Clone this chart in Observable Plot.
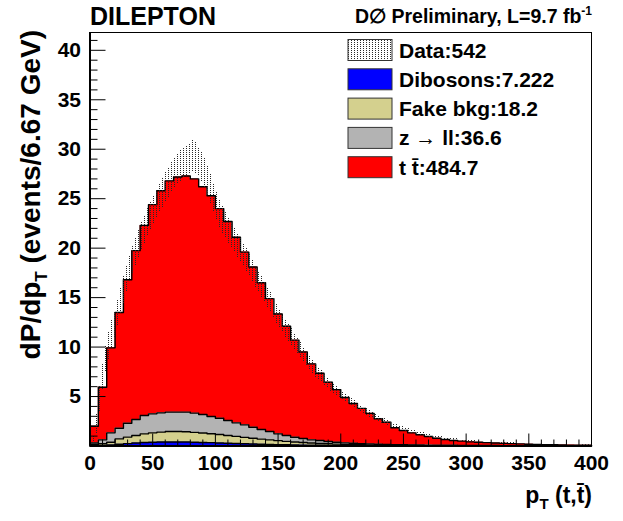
<!DOCTYPE html>
<html><head><meta charset="utf-8">
<script src="https://cdn.jsdelivr.net/npm/d3@7"></script>
<script src="https://cdn.jsdelivr.net/npm/@observablehq/plot@0.6"></script>
<style>body{margin:0;background:#fff;}</style>
</head><body><div id="chart"></div>
<script>
// ---- data (60 bins of 6.67 GeV from 0 to 400) ----
const binWidth = 400 / 60;
const dibosons = [0.02,0.05,0.1,0.17,0.24,0.3,0.35,0.38,0.4,0.41,0.41,0.4,0.38,0.36,0.34,0.31,0.28,0.25,0.22,0.2,0.18,0.16,0.14,0.12,0.1,0.09,0.08,0.07,0.06,0.05,0.04,0.04,0.03,0.03,0.03,0.02,0.02,0.02,0.02,0.01,0.01,0.01,0.01,0.01,0.01,0.01,0.01,0.01,0.01,0.01,0.01,0.01,0.005,0.005,0.005,0.005,0.005,0.005,0.005,0.005];
const fakeBkg = [0.1,0.17,0.28,0.55,0.66,0.76,0.88,0.95,1.0,1.05,1.05,1.04,1.0,0.96,0.9,0.85,0.78,0.72,0.65,0.58,0.52,0.46,0.4,0.35,0.3,0.26,0.22,0.19,0.16,0.14,0.12,0.1,0.09,0.08,0.07,0.06,0.05,0.04,0.04,0.03,0.03,0.03,0.025,0.025,0.02,0.02,0.015,0.015,0.015,0.01,0.01,0.01,0.01,0.01,0.01,0.01,0.005,0.005,0.005,0.005];
const zll = [0.18,0.4,0.95,1.08,1.4,1.62,1.85,1.92,1.95,1.96,1.96,1.98,1.94,1.86,1.74,1.65,1.52,1.37,1.27,1.12,0.97,0.84,0.69,0.59,0.49,0.41,0.32,0.29,0.23,0.19,0.16,0.14,0.12,0.1,0.08,0.08,0.07,0.06,0.05,0.06,0.05,0.04,0.035,0.035,0.03,0.03,0.025,0.025,0.025,0.02,0.02,0.02,0.015,0.015,0.015,0.015,0.01,0.01,0.01,0.01];
const ttbar = [1.7,5.32,8.59,11.7,14.5,17.07,19.22,21.15,22.45,23.38,23.78,23.88,23.68,23.02,22.32,21.19,20.12,18.76,17.46,16.2,14.83,13.44,12.12,11.04,9.81,8.74,7.68,6.8,6.0,5.32,4.58,4.02,3.56,3.09,2.57,2.24,1.71,1.45,1.22,1.03,0.87,0.71,0.59,0.49,0.43,0.36,0.33,0.29,0.25,0.23,0.2,0.17,0.15,0.13,0.11,0.09,0.08,0.07,0.06,0.05];

// data: smoothed band (low / high)
const dataPt   = [2,5,8,12,16,20,26,31,39,50,60,67,73,80,83,87,94,100,107,113,120,127,133,140,147,153,160,167,173,180,187,193,200,213,227,240,253,267,280,300,320,340,360,380,400];
const dataHigh = [0,2.5,6.0,9.7,12.0,13.6,16.6,18.9,21.8,25.1,27.5,29.0,29.9,30.6,30.9,30.2,28.4,26.0,24.0,22.6,21.1,19.6,18.1,16.5,14.9,13.4,12.1,10.7,9.5,8.3,7.35,6.45,5.7,4.4,3.3,2.45,1.8,1.3,0.95,0.6,0.4,0.3,0.22,0.17,0.13];
const dataLow  = [0,0.8,3.5,7.0,9.2,11.0,13.9,16.2,19.0,22.2,24.5,25.9,26.8,27.5,27.7,27.2,25.4,23.2,21.3,20.1,18.7,17.3,15.9,14.4,12.9,11.6,10.4,9.1,8.1,7.0,6.2,5.4,4.75,3.6,2.65,1.95,1.4,1.0,0.72,0.45,0.3,0.22,0.16,0.12,0.09];

const seriesNames = ["Dibosons", "Fake bkg", "z → ll", "t t̄"];
const seriesColors = ["#0000ff", "#d4d08e", "#b3b3b3", "#ff0000"];
const legendLabels = ["Data:542", "Dibosons:7.222", "Fake bkg:18.2", "z \u2192 ll:36.6", "t t\u0304:484.7"];
const legendFills = ["url(#dots)", "#0000ff", "#d4d08e", "#b3b3b3", "#ff0000"];
const yMajor = [5, 10, 15, 20, 25, 30, 35, 40];
const xMajor = [0, 50, 100, 150, 200, 250, 300, 350, 400];
const yMinor = d3.range(1, 42, 1).filter(v => v % 5 !== 0);
const xMinor = d3.range(10, 400, 10).filter(v => v % 50 !== 0);

// ---- tables ----
const layers = [dibosons, fakeBkg, zll, ttbar];
const stepRows = layers.flatMap((vals, s) =>
  [...vals, vals[vals.length - 1]].map((v, i) => ({series: seriesNames[s], x: i * binWidth, value: v})));
const dataRows = dataPt.map((pt, i) => ({pt, low: dataLow[i], high: dataHigh[i]}));

const W = 623, H = 521, mL = 89.5, mR = 32, mT = 32, mB = 75.5;
const plotW = W - mL - mR, plotH = H - mT - mB;
const FONT = "'Liberation Sans', Arial, Helvetica, sans-serif";
const BAND = "#565656";

const plot = Plot.plot({
  width: W, height: H,
  marginLeft: mL, marginRight: mR, marginTop: mT, marginBottom: mB,
  style: {fontFamily: FONT, background: "white", color: "black", overflow: "visible"},
  x: {domain: [0, 400]},
  y: {domain: [0, 41.8]},
  color: {domain: seriesNames, range: seriesColors},
  marks: [
    Plot.areaY(stepRows, Plot.stackY({x: "x", y: "value", z: "series", fill: "series", order: seriesNames, curve: "step-after"})),
    Plot.lineY(stepRows, Plot.stackY2({x: "x", y: "value", z: "series", order: seriesNames, curve: "step-after", stroke: "black", strokeWidth: 1.4})),
    Plot.areaY(dataRows, {x: "pt", y1: "low", y2: "high", curve: "catmull-rom", fill: BAND}),
    Plot.ruleY(yMinor, {y: d => d, insetRight: plotW - 8, stroke: "black", strokeWidth: 1}),
    Plot.ruleY(yMajor, {y: d => d, insetRight: plotW - 16, stroke: "black", strokeWidth: 1}),
    Plot.ruleX(xMinor, {x: d => d, insetTop: plotH - 6, stroke: "black", strokeWidth: 1}),
    Plot.ruleX(xMajor, {x: d => d, insetTop: plotH - 12, stroke: "black", strokeWidth: 1}),
    Plot.axisY({ticks: yMajor, tickSize: 0, tickPadding: 9, fontSize: 21, fontWeight: "bold", label: null}),
    Plot.axisX({ticks: xMajor, tickSize: 0, tickPadding: 9, fontSize: 21, fontWeight: "bold", label: null}),
    Plot.frame({stroke: "black", strokeWidth: 1}),
    Plot.ruleX([0], {stroke: "black", strokeWidth: 2}),
    Plot.ruleY([0], {stroke: "black", strokeWidth: 2})
  ]
});

const svg = d3.select(plot);
const defs = svg.insert("defs", ":first-child");
const pat = defs.append("pattern").attr("id", "dots").attr("patternUnits", "userSpaceOnUse")
  .attr("width", 3).attr("height", 2);
pat.append("rect").attr("x", 0).attr("y", 0).attr("width", 1).attr("height", 1).attr("fill", "#2a2a2a");
const band = svg.selectAll(`g[fill="${BAND}"]`);
band.attr("fill", "url(#dots)");
band.selectAll("path").attr("fill", "url(#dots)").attr("shape-rendering", "crispEdges");

// titles
const T = (x, y, size, anchor) => svg.append("text").attr("x", x).attr("y", y).attr("font-size", size)
  .attr("font-weight", "bold").attr("font-family", FONT).attr("text-anchor", anchor).attr("fill", "black");
T(90, 25, 25, "start").text("DILEPTON");
const pre = T(592, 23, 19.5, "end");
pre.append("tspan").text("D\u2205 Preliminary, L=9.7 fb");
pre.append("tspan").attr("dy", -8).attr("font-size", 12).text("-1");

// axis titles
const yt = svg.append("text").attr("transform", "translate(40,30) rotate(-90)").attr("text-anchor", "end")
  .attr("font-size", 28).attr("font-weight", "bold").attr("font-family", FONT).attr("fill", "black");
yt.append("tspan").text("dP/dp");
yt.append("tspan").attr("dy", 7).attr("font-size", 17).text("T");
yt.append("tspan").attr("dy", -7).text(" (events/6.67 GeV)");

const xt = T(592, 503, 23, "end");
xt.append("tspan").text("p");
xt.append("tspan").attr("dy", 6).attr("font-size", 15).text("T");
xt.append("tspan").attr("dy", -6).text(" (t,t\u0304)");

// legend
const lg = svg.append("g");
legendLabels.forEach((lab, i) => {
  const cy = 50 + i * 29.3;
  lg.append("rect").attr("x", 348).attr("y", cy - 10.5).attr("width", 44).attr("height", 21)
    .attr("fill", legendFills[i]).attr("stroke", "#333").attr("stroke-width", 1);
  T(399, cy, 21, "start").attr("dy", "0.36em").text(lab);
});

document.getElementById("chart").appendChild(plot);
</script>
</body></html>
